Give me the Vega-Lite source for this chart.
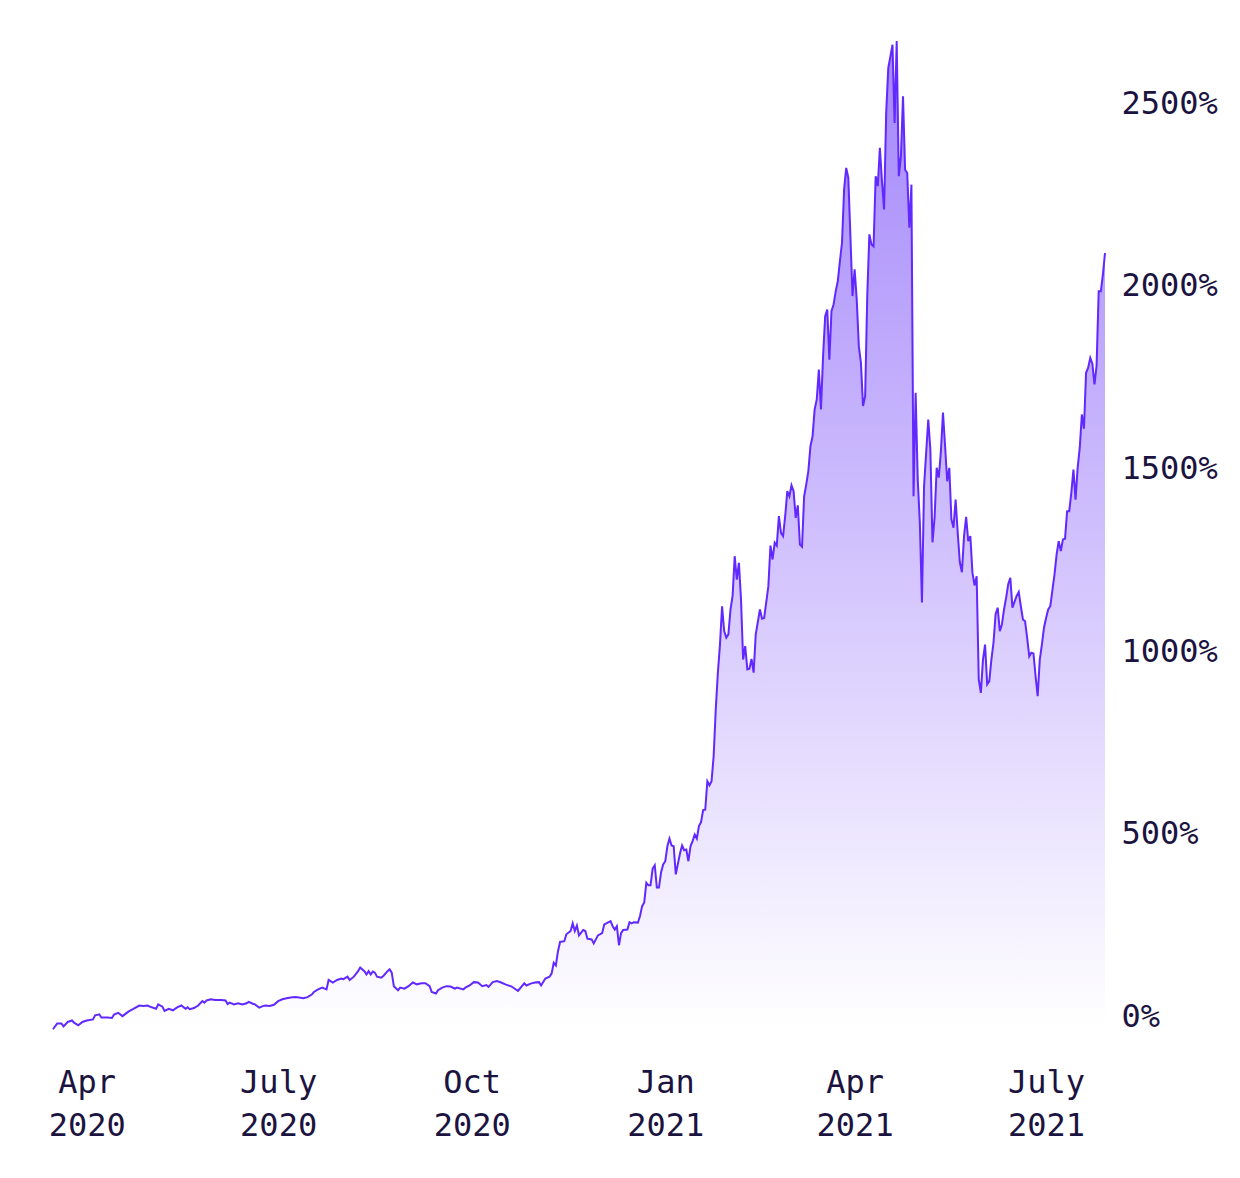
{
  "$schema": "https://vega.github.io/schema/vega-lite/v6.json",
  "autosize": {"type": "none"},
  "width": 1052,
  "height": 990,
  "padding": {"left": 53, "top": 40, "right": 135, "bottom": 148},
  "background": "white",
  "config": {
    "view": {"stroke": null},
    "axis": {
      "labelFont": "DejaVu Sans Mono",
      "labelFontSize": 32,
      "labelColor": "#1b1340",
      "grid": false,
      "domain": false,
      "ticks": false,
      "title": null
    }
  },
  "data": {
    "values": [
      {"date": "2020-03-16", "pct": -8}, {"date": "2020-03-18", "pct": 8}, {"date": "2020-03-20", "pct": 8},
      {"date": "2020-03-21", "pct": 0}, {"date": "2020-03-23", "pct": 12}, {"date": "2020-03-25", "pct": 16},
      {"date": "2020-03-26", "pct": 10}, {"date": "2020-03-28", "pct": 3}, {"date": "2020-03-30", "pct": 12},
      {"date": "2020-04-01", "pct": 16}, {"date": "2020-04-04", "pct": 19}, {"date": "2020-04-05", "pct": 30},
      {"date": "2020-04-07", "pct": 33}, {"date": "2020-04-08", "pct": 24}, {"date": "2020-04-11", "pct": 24},
      {"date": "2020-04-13", "pct": 23}, {"date": "2020-04-14", "pct": 32}, {"date": "2020-04-16", "pct": 37},
      {"date": "2020-04-18", "pct": 28}, {"date": "2020-04-21", "pct": 41}, {"date": "2020-04-23", "pct": 47},
      {"date": "2020-04-26", "pct": 57}, {"date": "2020-04-28", "pct": 56}, {"date": "2020-04-30", "pct": 57},
      {"date": "2020-05-01", "pct": 54}, {"date": "2020-05-04", "pct": 48}, {"date": "2020-05-05", "pct": 60},
      {"date": "2020-05-07", "pct": 54}, {"date": "2020-05-08", "pct": 42}, {"date": "2020-05-10", "pct": 48},
      {"date": "2020-05-12", "pct": 44}, {"date": "2020-05-14", "pct": 52}, {"date": "2020-05-16", "pct": 57},
      {"date": "2020-05-18", "pct": 48}, {"date": "2020-05-19", "pct": 52}, {"date": "2020-05-20", "pct": 47},
      {"date": "2020-05-22", "pct": 50}, {"date": "2020-05-24", "pct": 57}, {"date": "2020-05-26", "pct": 69},
      {"date": "2020-05-27", "pct": 65}, {"date": "2020-05-28", "pct": 71}, {"date": "2020-05-30", "pct": 74},
      {"date": "2020-06-01", "pct": 72}, {"date": "2020-06-04", "pct": 72}, {"date": "2020-06-06", "pct": 71},
      {"date": "2020-06-07", "pct": 61}, {"date": "2020-06-08", "pct": 65}, {"date": "2020-06-10", "pct": 60},
      {"date": "2020-06-12", "pct": 63}, {"date": "2020-06-14", "pct": 60}, {"date": "2020-06-16", "pct": 63},
      {"date": "2020-06-17", "pct": 67}, {"date": "2020-06-19", "pct": 62}, {"date": "2020-06-20", "pct": 60},
      {"date": "2020-06-22", "pct": 51}, {"date": "2020-06-24", "pct": 56}, {"date": "2020-06-25", "pct": 57},
      {"date": "2020-06-27", "pct": 56}, {"date": "2020-06-29", "pct": 59}, {"date": "2020-07-01", "pct": 69},
      {"date": "2020-07-03", "pct": 74}, {"date": "2020-07-05", "pct": 77}, {"date": "2020-07-07", "pct": 79},
      {"date": "2020-07-09", "pct": 80}, {"date": "2020-07-11", "pct": 79}, {"date": "2020-07-13", "pct": 77},
      {"date": "2020-07-15", "pct": 80}, {"date": "2020-07-17", "pct": 87}, {"date": "2020-07-18", "pct": 94},
      {"date": "2020-07-20", "pct": 101}, {"date": "2020-07-22", "pct": 106}, {"date": "2020-07-24", "pct": 101},
      {"date": "2020-07-25", "pct": 127}, {"date": "2020-07-27", "pct": 120}, {"date": "2020-07-29", "pct": 127},
      {"date": "2020-07-31", "pct": 131}, {"date": "2020-08-01", "pct": 129}, {"date": "2020-08-03", "pct": 136},
      {"date": "2020-08-04", "pct": 127}, {"date": "2020-08-06", "pct": 136}, {"date": "2020-08-08", "pct": 151},
      {"date": "2020-08-09", "pct": 161}, {"date": "2020-08-11", "pct": 151}, {"date": "2020-08-12", "pct": 142},
      {"date": "2020-08-13", "pct": 151}, {"date": "2020-08-14", "pct": 142}, {"date": "2020-08-15", "pct": 150},
      {"date": "2020-08-16", "pct": 147}, {"date": "2020-08-17", "pct": 136}, {"date": "2020-08-19", "pct": 133},
      {"date": "2020-08-20", "pct": 138}, {"date": "2020-08-22", "pct": 151}, {"date": "2020-08-23", "pct": 156},
      {"date": "2020-08-24", "pct": 147}, {"date": "2020-08-25", "pct": 110}, {"date": "2020-08-27", "pct": 99},
      {"date": "2020-08-28", "pct": 106}, {"date": "2020-08-30", "pct": 103}, {"date": "2020-09-01", "pct": 110},
      {"date": "2020-09-03", "pct": 120}, {"date": "2020-09-05", "pct": 115}, {"date": "2020-09-07", "pct": 118},
      {"date": "2020-09-09", "pct": 118}, {"date": "2020-09-11", "pct": 110}, {"date": "2020-09-12", "pct": 94},
      {"date": "2020-09-14", "pct": 90}, {"date": "2020-09-15", "pct": 99}, {"date": "2020-09-17", "pct": 106},
      {"date": "2020-09-19", "pct": 110}, {"date": "2020-09-21", "pct": 109}, {"date": "2020-09-23", "pct": 103},
      {"date": "2020-09-24", "pct": 106}, {"date": "2020-09-27", "pct": 101}, {"date": "2020-09-28", "pct": 106},
      {"date": "2020-09-30", "pct": 112}, {"date": "2020-10-02", "pct": 121}, {"date": "2020-10-04", "pct": 120},
      {"date": "2020-10-06", "pct": 110}, {"date": "2020-10-08", "pct": 113}, {"date": "2020-10-09", "pct": 108},
      {"date": "2020-10-11", "pct": 121}, {"date": "2020-10-13", "pct": 124}, {"date": "2020-10-15", "pct": 120},
      {"date": "2020-10-17", "pct": 115}, {"date": "2020-10-20", "pct": 109}, {"date": "2020-10-22", "pct": 101},
      {"date": "2020-10-23", "pct": 97}, {"date": "2020-10-26", "pct": 118}, {"date": "2020-10-27", "pct": 112},
      {"date": "2020-10-29", "pct": 117}, {"date": "2020-10-31", "pct": 120}, {"date": "2020-11-02", "pct": 121},
      {"date": "2020-11-03", "pct": 112}, {"date": "2020-11-05", "pct": 131}, {"date": "2020-11-07", "pct": 136},
      {"date": "2020-11-08", "pct": 145}, {"date": "2020-11-09", "pct": 174}, {"date": "2020-11-10", "pct": 167},
      {"date": "2020-11-11", "pct": 205}, {"date": "2020-11-12", "pct": 231}, {"date": "2020-11-14", "pct": 233},
      {"date": "2020-11-15", "pct": 252}, {"date": "2020-11-17", "pct": 261}, {"date": "2020-11-18", "pct": 282},
      {"date": "2020-11-19", "pct": 261}, {"date": "2020-11-20", "pct": 276}, {"date": "2020-11-21", "pct": 249},
      {"date": "2020-11-23", "pct": 264}, {"date": "2020-11-24", "pct": 261}, {"date": "2020-11-25", "pct": 240},
      {"date": "2020-11-27", "pct": 238}, {"date": "2020-11-28", "pct": 227}, {"date": "2020-11-30", "pct": 249},
      {"date": "2020-12-02", "pct": 255}, {"date": "2020-12-03", "pct": 279}, {"date": "2020-12-04", "pct": 282},
      {"date": "2020-12-06", "pct": 288}, {"date": "2020-12-07", "pct": 274}, {"date": "2020-12-08", "pct": 265},
      {"date": "2020-12-09", "pct": 274}, {"date": "2020-12-10", "pct": 222}, {"date": "2020-12-11", "pct": 255},
      {"date": "2020-12-12", "pct": 264}, {"date": "2020-12-14", "pct": 265}, {"date": "2020-12-15", "pct": 285},
      {"date": "2020-12-16", "pct": 282}, {"date": "2020-12-17", "pct": 285}, {"date": "2020-12-19", "pct": 284},
      {"date": "2020-12-20", "pct": 302}, {"date": "2020-12-21", "pct": 329}, {"date": "2020-12-22", "pct": 339},
      {"date": "2020-12-23", "pct": 393}, {"date": "2020-12-24", "pct": 386}, {"date": "2020-12-25", "pct": 386},
      {"date": "2020-12-26", "pct": 432}, {"date": "2020-12-27", "pct": 441}, {"date": "2020-12-28", "pct": 380},
      {"date": "2020-12-29", "pct": 380}, {"date": "2020-12-30", "pct": 421}, {"date": "2020-12-31", "pct": 443},
      {"date": "2021-01-01", "pct": 452}, {"date": "2021-01-02", "pct": 493}, {"date": "2021-01-03", "pct": 514},
      {"date": "2021-01-04", "pct": 495}, {"date": "2021-01-05", "pct": 493}, {"date": "2021-01-06", "pct": 416},
      {"date": "2021-01-08", "pct": 473}, {"date": "2021-01-09", "pct": 495}, {"date": "2021-01-10", "pct": 482},
      {"date": "2021-01-11", "pct": 484}, {"date": "2021-01-12", "pct": 452}, {"date": "2021-01-13", "pct": 493},
      {"date": "2021-01-14", "pct": 507}, {"date": "2021-01-15", "pct": 525}, {"date": "2021-01-16", "pct": 514},
      {"date": "2021-01-17", "pct": 548}, {"date": "2021-01-18", "pct": 559}, {"date": "2021-01-19", "pct": 592},
      {"date": "2021-01-20", "pct": 593}, {"date": "2021-01-21", "pct": 671}, {"date": "2021-01-22", "pct": 660},
      {"date": "2021-01-23", "pct": 671}, {"date": "2021-01-24", "pct": 740}, {"date": "2021-01-25", "pct": 868},
      {"date": "2021-01-26", "pct": 968}, {"date": "2021-01-27", "pct": 1045}, {"date": "2021-01-28", "pct": 1150},
      {"date": "2021-01-29", "pct": 1082}, {"date": "2021-01-30", "pct": 1064}, {"date": "2021-01-31", "pct": 1073},
      {"date": "2021-02-01", "pct": 1141}, {"date": "2021-02-02", "pct": 1178}, {"date": "2021-02-03", "pct": 1287},
      {"date": "2021-02-04", "pct": 1223}, {"date": "2021-02-05", "pct": 1269}, {"date": "2021-02-06", "pct": 1169},
      {"date": "2021-02-07", "pct": 1004}, {"date": "2021-02-08", "pct": 1041}, {"date": "2021-02-09", "pct": 977},
      {"date": "2021-02-10", "pct": 979}, {"date": "2021-02-11", "pct": 1006}, {"date": "2021-02-12", "pct": 968},
      {"date": "2021-02-13", "pct": 1073}, {"date": "2021-02-15", "pct": 1141}, {"date": "2021-02-16", "pct": 1116},
      {"date": "2021-02-17", "pct": 1118}, {"date": "2021-02-18", "pct": 1161}, {"date": "2021-02-19", "pct": 1205},
      {"date": "2021-02-20", "pct": 1316}, {"date": "2021-02-21", "pct": 1278}, {"date": "2021-02-22", "pct": 1324},
      {"date": "2021-02-23", "pct": 1316}, {"date": "2021-02-24", "pct": 1397}, {"date": "2021-02-25", "pct": 1351},
      {"date": "2021-02-26", "pct": 1342}, {"date": "2021-02-27", "pct": 1397}, {"date": "2021-02-28", "pct": 1465},
      {"date": "2021-03-01", "pct": 1451}, {"date": "2021-03-02", "pct": 1481}, {"date": "2021-03-03", "pct": 1465},
      {"date": "2021-03-04", "pct": 1392}, {"date": "2021-03-05", "pct": 1426}, {"date": "2021-03-06", "pct": 1319},
      {"date": "2021-03-07", "pct": 1313}, {"date": "2021-03-08", "pct": 1451}, {"date": "2021-03-09", "pct": 1483},
      {"date": "2021-03-10", "pct": 1520}, {"date": "2021-03-11", "pct": 1588}, {"date": "2021-03-12", "pct": 1615},
      {"date": "2021-03-13", "pct": 1689}, {"date": "2021-03-14", "pct": 1716}, {"date": "2021-03-15", "pct": 1798},
      {"date": "2021-03-16", "pct": 1689}, {"date": "2021-03-17", "pct": 1834}, {"date": "2021-03-18", "pct": 1944},
      {"date": "2021-03-19", "pct": 1962}, {"date": "2021-03-20", "pct": 1825}, {"date": "2021-03-21", "pct": 1958},
      {"date": "2021-03-22", "pct": 1976}, {"date": "2021-03-23", "pct": 2012}, {"date": "2021-03-24", "pct": 2040},
      {"date": "2021-03-25", "pct": 2094}, {"date": "2021-03-26", "pct": 2145}, {"date": "2021-03-27", "pct": 2291},
      {"date": "2021-03-28", "pct": 2350}, {"date": "2021-03-29", "pct": 2323}, {"date": "2021-03-30", "pct": 2163},
      {"date": "2021-03-31", "pct": 1999}, {"date": "2021-04-01", "pct": 2072}, {"date": "2021-04-02", "pct": 1990},
      {"date": "2021-04-03", "pct": 1862}, {"date": "2021-04-04", "pct": 1816}, {"date": "2021-04-05", "pct": 1698},
      {"date": "2021-04-06", "pct": 1725}, {"date": "2021-04-07", "pct": 1999}, {"date": "2021-04-08", "pct": 2168},
      {"date": "2021-04-09", "pct": 2140}, {"date": "2021-04-10", "pct": 2135}, {"date": "2021-04-11", "pct": 2327},
      {"date": "2021-04-12", "pct": 2300}, {"date": "2021-04-13", "pct": 2405}, {"date": "2021-04-14", "pct": 2313},
      {"date": "2021-04-15", "pct": 2236}, {"date": "2021-04-16", "pct": 2501}, {"date": "2021-04-17", "pct": 2624},
      {"date": "2021-04-18", "pct": 2655}, {"date": "2021-04-19", "pct": 2687}, {"date": "2021-04-20", "pct": 2473},
      {"date": "2021-04-21", "pct": 2697}, {"date": "2021-04-22", "pct": 2327}, {"date": "2021-04-23", "pct": 2382},
      {"date": "2021-04-24", "pct": 2546}, {"date": "2021-04-25", "pct": 2345}, {"date": "2021-04-26", "pct": 2336},
      {"date": "2021-04-27", "pct": 2186}, {"date": "2021-04-28", "pct": 2304}, {"date": "2021-04-29", "pct": 1451},
      {"date": "2021-04-30", "pct": 1734}, {"date": "2021-05-01", "pct": 1497}, {"date": "2021-05-02", "pct": 1378},
      {"date": "2021-05-03", "pct": 1160}, {"date": "2021-05-04", "pct": 1479}, {"date": "2021-05-06", "pct": 1661},
      {"date": "2021-05-07", "pct": 1579}, {"date": "2021-05-08", "pct": 1325}, {"date": "2021-05-09", "pct": 1392},
      {"date": "2021-05-10", "pct": 1529}, {"date": "2021-05-11", "pct": 1502}, {"date": "2021-05-12", "pct": 1574},
      {"date": "2021-05-13", "pct": 1680}, {"date": "2021-05-14", "pct": 1588}, {"date": "2021-05-15", "pct": 1492},
      {"date": "2021-05-16", "pct": 1529}, {"date": "2021-05-17", "pct": 1388}, {"date": "2021-05-18", "pct": 1365},
      {"date": "2021-05-19", "pct": 1442}, {"date": "2021-05-20", "pct": 1351}, {"date": "2021-05-21", "pct": 1271},
      {"date": "2021-05-22", "pct": 1243}, {"date": "2021-05-23", "pct": 1342}, {"date": "2021-05-24", "pct": 1395},
      {"date": "2021-05-25", "pct": 1328}, {"date": "2021-05-26", "pct": 1342}, {"date": "2021-05-27", "pct": 1242},
      {"date": "2021-05-28", "pct": 1207}, {"date": "2021-05-29", "pct": 1232}, {"date": "2021-05-30", "pct": 950},
      {"date": "2021-05-31", "pct": 913}, {"date": "2021-06-01", "pct": 1004}, {"date": "2021-06-02", "pct": 1045},
      {"date": "2021-06-03", "pct": 936}, {"date": "2021-06-04", "pct": 945}, {"date": "2021-06-05", "pct": 1004},
      {"date": "2021-06-06", "pct": 1050}, {"date": "2021-06-07", "pct": 1128}, {"date": "2021-06-08", "pct": 1146},
      {"date": "2021-06-09", "pct": 1082}, {"date": "2021-06-10", "pct": 1100}, {"date": "2021-06-11", "pct": 1141},
      {"date": "2021-06-12", "pct": 1173}, {"date": "2021-06-13", "pct": 1210}, {"date": "2021-06-14", "pct": 1228},
      {"date": "2021-06-15", "pct": 1146}, {"date": "2021-06-17", "pct": 1178}, {"date": "2021-06-18", "pct": 1189},
      {"date": "2021-06-19", "pct": 1150}, {"date": "2021-06-20", "pct": 1114}, {"date": "2021-06-21", "pct": 1109},
      {"date": "2021-06-22", "pct": 1064}, {"date": "2021-06-23", "pct": 1013}, {"date": "2021-06-24", "pct": 1023},
      {"date": "2021-06-25", "pct": 1021}, {"date": "2021-06-26", "pct": 959}, {"date": "2021-06-27", "pct": 904},
      {"date": "2021-06-28", "pct": 1004}, {"date": "2021-06-29", "pct": 1045}, {"date": "2021-06-30", "pct": 1091},
      {"date": "2021-07-01", "pct": 1118}, {"date": "2021-07-02", "pct": 1141}, {"date": "2021-07-03", "pct": 1150},
      {"date": "2021-07-04", "pct": 1194}, {"date": "2021-07-05", "pct": 1237}, {"date": "2021-07-06", "pct": 1292},
      {"date": "2021-07-07", "pct": 1328}, {"date": "2021-07-08", "pct": 1301}, {"date": "2021-07-09", "pct": 1333},
      {"date": "2021-07-10", "pct": 1335}, {"date": "2021-07-11", "pct": 1410}, {"date": "2021-07-12", "pct": 1410},
      {"date": "2021-07-13", "pct": 1461}, {"date": "2021-07-14", "pct": 1524}, {"date": "2021-07-15", "pct": 1442},
      {"date": "2021-07-16", "pct": 1529}, {"date": "2021-07-17", "pct": 1584}, {"date": "2021-07-18", "pct": 1675},
      {"date": "2021-07-19", "pct": 1636}, {"date": "2021-07-20", "pct": 1789}, {"date": "2021-07-21", "pct": 1803},
      {"date": "2021-07-22", "pct": 1830}, {"date": "2021-07-23", "pct": 1814}, {"date": "2021-07-24", "pct": 1757},
      {"date": "2021-07-25", "pct": 1809}, {"date": "2021-07-26", "pct": 2012}, {"date": "2021-07-27", "pct": 2012},
      {"date": "2021-07-28", "pct": 2058}, {"date": "2021-07-29", "pct": 2117}
    ]
  },
  "encoding": {
    "x": {
      "field": "date",
      "type": "temporal",
      "scale": {"type": "utc"},
      "axis": {
        "tickCount": {"interval": "month", "step": 3},
        "labelExpr": "[utcFormat(datum.value, '%m') == '07' ? 'July' : utcFormat(datum.value, '%b'), utcFormat(datum.value, '%Y')]",
        "labelBaseline": "top",
        "labelPadding": 37,
        "labelLineHeight": 43,
        "labelOverlap": false,
        "labelFlush": false
      }
    },
    "y": {
      "field": "pct",
      "type": "quantitative",
      "scale": {"domain": [-10, 2700], "nice": false, "zero": false},
      "axis": {
        "orient": "right",
        "values": [0, 500, 1000, 1500, 2000, 2500],
        "labelExpr": "datum.value + '%'",
        "labelAlign": "left",
        "labelBaseline": "alphabetic",
        "labelPadding": 16
      }
    }
  },
  "layer": [
    {
      "mark": {
        "type": "area",
        "color": {
          "gradient": "linear",
          "x1": 1, "y1": 1, "x2": 1, "y2": 0,
          "stops": [
            {"offset": 0, "color": "#ffffff"},
            {"offset": 0.5, "color": "#d0c0fd"},
            {"offset": 1, "color": "#a386fa"}
          ]
        }
      }
    },
    {
      "mark": {"type": "line", "color": "#6128ff", "strokeWidth": 2}
    }
  ]
}
